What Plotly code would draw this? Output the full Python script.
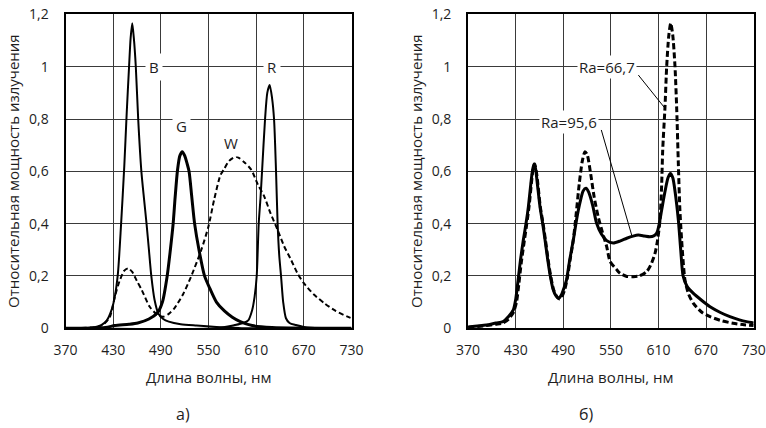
import plotly.graph_objects as go

W_PX, H_PX = 766, 428

# ---------------- data: panel a) ----------------
b_wl = [370, 405, 415, 422, 428, 432, 436, 440, 444, 447, 450, 452, 454, 456, 458.5, 461.5, 465.5, 469, 472, 475, 478, 482, 487, 493, 500, 515, 535, 560, 600, 730]
b_val = [0, 0.003, 0.012, 0.03, 0.07, 0.12, 0.21, 0.40, 0.62, 0.82, 1.0, 1.11, 1.166, 1.11, 1.0, 0.8, 0.6, 0.49, 0.4, 0.3, 0.2, 0.11, 0.055, 0.035, 0.025, 0.015, 0.01, 0.005, 0, 0]

g_wl = [370, 420, 432, 450, 461, 475, 486, 492, 498, 502, 505.5, 508, 511, 514, 517, 520, 523, 525.5, 529, 532.5, 538, 545, 552, 560, 570, 580, 590, 605, 630, 730]
g_val = [0, 0.003, 0.01, 0.015, 0.02, 0.035, 0.06, 0.1, 0.2, 0.3, 0.4, 0.5, 0.605, 0.66, 0.675, 0.66, 0.63, 0.6, 0.5, 0.4, 0.3, 0.2, 0.15, 0.1, 0.066, 0.042, 0.025, 0.01, 0.003, 0]

w_wl = [370, 410, 418, 426, 432, 438, 444, 449, 454, 460, 466, 476, 486, 493, 500, 507, 518, 528, 541, 550, 557, 565, 570, 576, 585, 595, 604, 612, 620, 628, 637, 645, 654, 662, 670, 683, 696, 710, 725, 730]
w_val = [0, 0.005, 0.015, 0.044, 0.12, 0.18, 0.22, 0.229, 0.215, 0.18, 0.146, 0.082, 0.05, 0.044, 0.055, 0.076, 0.13, 0.197, 0.3, 0.39, 0.49, 0.585, 0.61, 0.64, 0.656, 0.635, 0.605, 0.55, 0.505, 0.44, 0.376, 0.315, 0.261, 0.21, 0.172, 0.128, 0.095, 0.066, 0.044, 0.038]

r_wl = [370, 560, 583, 594, 600, 605, 608, 610.7, 613.2, 615.5, 617.4, 621.2, 624, 627, 630, 632.5, 635, 637, 639, 641.3, 644, 647.5, 652, 660, 670, 690, 730]
r_val = [0, 0, 0.012, 0.02, 0.03, 0.07, 0.12, 0.2, 0.4, 0.5, 0.6, 0.8, 0.9, 0.93, 0.88, 0.8, 0.6, 0.4, 0.28, 0.2, 0.1, 0.038, 0.02, 0.012, 0.005, 0, 0]

# ---------------- data: panel б) ----------------
ra95_wl = [370, 393, 405, 414, 421, 427, 430, 433, 436, 439.6, 443, 446, 449, 451, 453, 455, 457, 460.6, 464, 467, 470, 473, 477, 480.5, 484, 488, 491, 494, 498, 502.6, 507, 511, 515, 518.6, 522, 527, 532, 538, 544.7, 553, 562, 570, 578, 584.5, 592, 599, 604, 608, 611, 614, 618, 622, 625, 628, 631, 635, 638, 641, 646, 654, 665, 675, 688, 700, 712, 721, 730]
ra95_val = [0.005, 0.012, 0.02, 0.025, 0.045, 0.07, 0.11, 0.184, 0.26, 0.337, 0.4, 0.465, 0.55, 0.6, 0.628, 0.61, 0.56, 0.465, 0.4, 0.337, 0.27, 0.21, 0.15, 0.125, 0.114, 0.13, 0.155, 0.184, 0.26, 0.337, 0.42, 0.48, 0.525, 0.535, 0.52, 0.47, 0.401, 0.36, 0.335, 0.326, 0.334, 0.344, 0.352, 0.356, 0.353, 0.35, 0.353, 0.365, 0.4, 0.452, 0.52, 0.575, 0.592, 0.575, 0.52, 0.414, 0.3, 0.2, 0.16, 0.133, 0.105, 0.082, 0.06, 0.044, 0.032, 0.025, 0.02]

ra66_wl = [370, 393, 405, 414, 421, 427, 431, 434, 437, 441, 444, 447, 450, 452, 454, 456, 458, 461, 464.5, 467.5, 470.5, 473.5, 477.5, 481, 485, 489, 492, 495, 498.5, 502.6, 506, 510, 514, 517.3, 520, 524, 529, 534, 539, 544.7, 549, 557, 561.5, 570, 578.3, 586, 595, 600, 605.6, 609, 611.9, 614, 615.3, 618.2, 620.3, 623, 625.4, 628, 630.8, 633, 635, 637, 640, 643.4, 648, 654, 665, 675, 690, 704, 718, 730]
ra66_val = [0.003, 0.01, 0.015, 0.02, 0.035, 0.06, 0.1, 0.17, 0.25, 0.337, 0.4, 0.47, 0.56, 0.61, 0.628, 0.6, 0.55, 0.465, 0.4, 0.337, 0.27, 0.21, 0.15, 0.125, 0.112, 0.125, 0.15, 0.19, 0.26, 0.337, 0.43, 0.55, 0.64, 0.675, 0.665, 0.6, 0.5, 0.426, 0.37, 0.312, 0.255, 0.225, 0.21, 0.198, 0.197, 0.2, 0.216, 0.24, 0.286, 0.34, 0.414, 0.55, 0.681, 0.847, 1.0, 1.12, 1.166, 1.12, 1.0, 0.834, 0.63, 0.45, 0.3, 0.184, 0.13, 0.095, 0.06, 0.044, 0.028, 0.019, 0.013, 0.01]

x_ticks = [370, 430, 490, 550, 610, 670, 730]
y_ticks = [0, 0.2, 0.4, 0.6, 0.8, 1.0, 1.2]
y_ticktext = ["0", "0,2", "0,4", "0,6", "0,8", "1", "1,2"]

x_title = "Длина волны, нм"
y_title = "Относительная мощность излучения"

FONT = "Open Sans"
TXT = "#1e1e1e"

fig = go.Figure()

def add(x, y, axis, width, dash=None, smooth=0.7):
    fig.add_trace(go.Scatter(
        x=x, y=y, mode="lines", xaxis="x" + axis, yaxis="y" + axis,
        line=dict(color="black", width=width, dash=dash, shape="spline", smoothing=smooth),
        showlegend=False, hoverinfo="skip"))

add(w_wl, w_val, "", 2, dash="5px,3px")
add(b_wl, b_val, "", 2)
add(g_wl, g_val, "", 3)
add(r_wl, r_val, "", 2)
add(ra66_wl, ra66_val, "2", 3, dash="6px,3px")
add(ra95_wl, ra95_val, "2", 3)

def px_x(p):
    return p / W_PX

def px_y(p):
    return 1 - p / H_PX

ydom = [px_y(328.2), px_y(14.4)]
axis_common = dict(
    showline=True, mirror=True, linecolor="black", linewidth=2,
    showgrid=True, gridcolor="#3a3a3a", gridwidth=1, zeroline=False,
    ticks="", automargin=False, tickfont=dict(family=FONT, size=14, color=TXT),
)
xax = dict(axis_common, range=[370, 730], tickvals=x_ticks, ticklabelstandoff=8)
yax = dict(axis_common, range=[0, 1.2], tickvals=y_ticks, ticktext=y_ticktext, ticklabelstandoff=12)

fig.update_layout(
    width=W_PX, height=H_PX,
    margin=dict(l=0, r=0, t=0, b=0, autoexpand=False),
    paper_bgcolor="white", plot_bgcolor="white",
    xaxis=dict(xax, domain=[px_x(65.5), px_x(351.5)], anchor="y"),
    yaxis=dict(yax, domain=ydom, anchor="x"),
    xaxis2=dict(xax, domain=[px_x(468.1), px_x(753.7)], anchor="y2"),
    yaxis2=dict(yax, domain=ydom, anchor="x2"),
)

C = dict(xanchor="center", yanchor="middle", showarrow=False)
ann = []
# axis titles and captions
for cx, ycx in [(208.5, 13), (611, 416)]:
    ann.append(dict(C, x=px_x(cx), y=px_y(377), xref="paper", yref="paper", text=x_title,
                    font=dict(family=FONT, size=15, color=TXT)))
    ann.append(dict(C, x=px_x(ycx), y=px_y(171), xref="paper", yref="paper", text=y_title,
                    textangle=-90, font=dict(family=FONT, size=15, color=TXT)))
ann.append(dict(C, x=px_x(183), y=px_y(414), xref="paper", yref="paper", text="а)",
                font=dict(family=FONT, size=16, color=TXT)))
ann.append(dict(C, x=px_x(586), y=px_y(414), xref="paper", yref="paper", text="б)",
                font=dict(family=FONT, size=16, color=TXT)))

# curve labels panel a)
for t, x, y in [("B", 482, 1.0), ("R", 630, 1.0), ("G", 516, 0.772), ("W", 578.5, 0.707)]:
    ann.append(dict(C, x=x, y=y, xref="x", yref="y", text=t,
                    bgcolor="white", borderpad=3,
                    font=dict(family=FONT, size=15, color=TXT)))

# labels panel б)
for t, x, y in [("Ra=66,7", 545.7, 1.0), ("Ra=95,6", 497.6, 0.79)]:
    ann.append(dict(C, x=x, y=y, xref="x2", yref="y2", text=t,
                    bgcolor="white", borderpad=1,
                    font=dict(family=FONT, size=15, color=TXT)))
fig.update_layout(annotations=ann)

# leader lines
fig.add_shape(type="line", xref="x2", yref="y2", x0=584.6, y0=0.968, x1=618.2, y1=0.841,
              line=dict(color="black", width=1))
fig.add_shape(type="line", xref="x2", yref="y2", x0=537.9, y0=0.758, x1=576.2, y1=0.356,
              line=dict(color="black", width=1))

fig.write_html("out.html", config={"displayModeBar": False},
               post_script="document.body.style.margin='0';document.body.style.overflow='hidden';")
